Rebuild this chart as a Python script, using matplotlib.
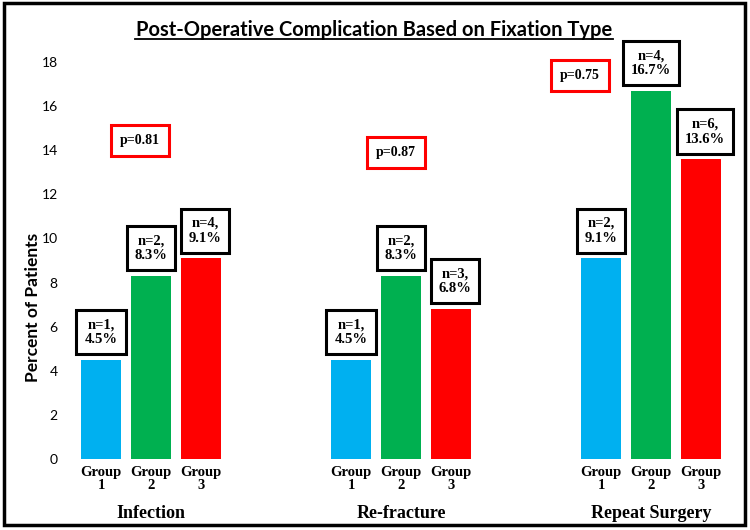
import numpy as np
import matplotlib.pyplot as plt
from matplotlib.patches import Rectangle
from matplotlib.lines import Line2D

# data
categories = ['Infection', 'Re-fracture', 'Repeat Surgery']
groups = ['Group\n1', 'Group\n2', 'Group\n3']
percents = [[4.5, 8.3, 9.1],
            [4.5, 8.3, 6.8],
            [9.1, 16.7, 13.6]]
counts = [[1, 2, 4],
          [1, 2, 3],
          [2, 4, 6]]
p_values = ['p=0.81', 'p=0.87', 'p=0.75']
colors = ['#00b0f0', '#00b050', '#ff0000']

W, H = 750, 530
fig = plt.figure(figsize=(7.5, 5.3), dpi=100)

# axes placed in pixel terms
left_px, right_px, top_px, bot_px = 66, 740, 40, 459
ax = fig.add_axes([left_px / W, 1 - bot_px / H,
                   (right_px - left_px) / W, (bot_px - top_px) / H])
ax.set_xlim(-0.7, 12.78)
ax.set_ylim(0, 19)
ax.patch.set_alpha(0)

serif = 'Liberation Serif'
sans = 'Lato'

xs_all, lbl_all = [], []
for i, cat in enumerate(categories):
    base = i * 5
    xs = base + np.arange(3)
    ax.bar(xs, percents[i], width=0.8, color=colors, zorder=2)
    xs_all += list(xs)
    lbl_all += groups
    # n / percent boxes
    shift = [0, 0, 0.08]
    for j in range(3):
        ax.text(xs[j] + shift[j], percents[i][j] + 1.25,
                f'n={counts[i][j]},\n{percents[i][j]}%',
                ha='center', va='center', fontsize=10.5, fontweight='bold',
                family=serif, linespacing=1.2,
                bbox=dict(boxstyle='square,pad=0.55', fc='white', ec='black', lw=2.2),
                zorder=3)
    ax.text(base + 1, -0.129, cat, transform=ax.get_xaxis_transform(),
            ha='center', va='center', fontsize=13, fontweight='bold', family=serif)

# p-value boxes
p_pos = [(0.78, 14.45), (5.9, 13.9), (9.58, 17.4)]
for (px, py), pv in zip(p_pos, p_values):
    ax.text(px, py, pv, ha='center', va='center', fontsize=10, fontweight='bold',
            family=serif,
            bbox=dict(boxstyle='square,pad=0.65', fc='white', ec='red', lw=2.2),
            zorder=3)

ax.set_xticks(xs_all)
ax.set_xticklabels(lbl_all, fontsize=10.5, fontweight='bold', family=serif,
                   linespacing=1.05)
ax.set_yticks(np.arange(0, 19, 2))
ax.tick_params(axis='both', length=0)
ax.tick_params(axis='x', pad=5)
ax.tick_params(axis='y', pad=6, labelsize=10)
for lab in ax.get_yticklabels():
    lab.set_family(sans)
for s in ax.spines.values():
    s.set_visible(False)

fig.text(33 / W, 1 - 307 / H, 'Percent of Patients', rotation=90,
         ha='center', va='center', fontsize=12.5, fontweight='bold', family=sans)

# title with underline
fig.text(374 / W, 1 - 30 / H, 'Post-Operative Complication Based on Fixation Type',
         ha='center', va='center', fontsize=14.5, fontweight='bold', family=sans)
fig.add_artist(Line2D([135 / W, 613 / W], [1 - 39 / H, 1 - 39 / H],
                      color='black', lw=1.3))

# outer frame
fig.add_artist(Rectangle((4 / W, 1 - 525 / H), 741 / W, 522 / H,
                         fill=False, ec='black', lw=2.5))

fig.savefig('out.png', dpi=100)
